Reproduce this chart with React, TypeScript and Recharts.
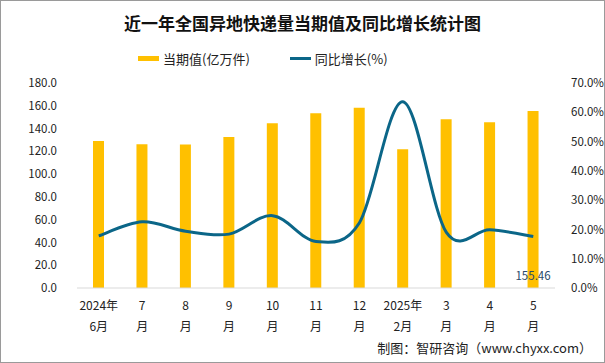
import React from "react";
import {
  Bar,
  ComposedChart,
  LabelList,
  Line,
  XAxis,
  YAxis,
} from "recharts";

/* 近一年全国异地快递量当期值及同比增长 */

const MONTHS = ["2024年|6月", "7|月", "8|月", "9|月", "10|月", "11|月", "12|月", "2025年|2月", "3|月", "4|月", "5|月"];
const VOLUME = [129.1, 126.3, 126.0, 132.5, 144.7, 153.5, 158.2, 121.8, 148.2, 145.6, 155.46];
const YOY = [17.8, 22.6, 19.4, 18.4, 24.7, 15.9, 22.3, 63.6, 19.0, 19.9, 17.6];
const LEFT_TICKS = [0, 20, 40, 60, 80, 100, 120, 140, 160, 180];
const RIGHT_TICKS = [0, 10, 20, 30, 40, 50, 60, 70];

const YELLOW = "#FFC000";
const TEAL = "#0B6688";
const FONT = "'Noto Sans CJK SC', 'Noto Sans', sans-serif";
const TICK = { fill: "#222", fontSize: 11.5, fontFamily: FONT } as const;

const data = MONTHS.map((m, i) => ({ month: m, volume: VOLUME[i], yoy: YOY[i] }));

/* Excel 风格的平滑曲线（Catmull-Rom） */
function smoothCurve(context: any) {
  let pts: [number, number][] = [];
  return {
    areaStart() {},
    areaEnd() {},
    lineStart() {
      pts = [];
    },
    point(x: number, y: number) {
      pts.push([+x, +y]);
    },
    lineEnd() {
      if (!pts.length) return;
      context.moveTo(pts[0][0], pts[0][1]);
      for (let i = 0; i < pts.length - 1; i++) {
        const p0 = pts[Math.max(0, i - 1)];
        const p1 = pts[i];
        const p2 = pts[i + 1];
        const p3 = pts[Math.min(pts.length - 1, i + 2)];
        context.bezierCurveTo(
          p1[0] + (p2[0] - p0[0]) / 6,
          p1[1] + (p2[1] - p0[1]) / 6,
          p2[0] - (p3[0] - p1[0]) / 6,
          p2[1] - (p3[1] - p1[1]) / 6,
          p2[0],
          p2[1]
        );
      }
    },
  };
}

function MonthTick(props: any) {
  const { x, y, payload } = props;
  const [a, b] = String(payload.value).split("|");
  return (
    <g transform={`translate(${x},${y})`}>
      <text textAnchor="middle" fill="#222" fontSize={12} fontFamily={FONT}>
        <tspan x={0} dy={14}>{a}</tspan>
        <tspan x={0} dy={21}>{b}</tspan>
      </text>
    </g>
  );
}

function LastLabel(props: any) {
  const { x, y, width, height, index, value } = props;
  if (index !== VOLUME.length - 1) return null;
  return (
    <text
      x={x + width / 2}
      y={y + height - 8}
      textAnchor="middle"
      fill="#2a4a6a"
      fontSize={11.5}
      fontFamily={FONT}
    >
      {value}
    </text>
  );
}

export default function App() {
  return (
    <div
      style={{
        position: "absolute",
        left: 0,
        top: 0,
        width: 605,
        height: 363,
        boxSizing: "border-box",
        border: "1px solid #9a9a9a",
        background: "#fff",
        fontFamily: FONT,
        overflow: "hidden",
      }}
    >
      <div
        style={{
          position: "absolute",
          top: 9,
          left: 0,
          width: 603,
          textAlign: "center",
          fontSize: 17,
          fontWeight: 700,
          color: "#111",
        }}
      >
        近一年全国异地快递量当期值及同比增长统计图
      </div>
      <div style={{ position: "absolute", top: 48, left: 137, display: "flex", alignItems: "center", fontSize: 13, color: "#222" }}>
        <span style={{ display: "inline-block", width: 21, height: 5, background: YELLOW, marginRight: 4 }} />
        当期值(亿万件)
        <span style={{ display: "inline-block", width: 21, height: 3, background: TEAL, marginLeft: 40, marginRight: 4 }} />
        同比增长(%)
      </div>
      <div style={{ position: "absolute", right: 12, top: 337, fontSize: 13, color: "#222" }}>
        制图：智研咨询（www.chyxx.com）
      </div>
      <ComposedChart
        width={603}
        height={361}
        data={data}
        margin={{ top: 82, right: 0, bottom: 34, left: 0 }}
        barCategoryGap="20%"
      >
        <XAxis
          dataKey="month"
          tick={<MonthTick />}
          tickLine={false}
          axisLine={{ stroke: "#d9d9d9" }}
          interval={0}
          height={40}
        />
        <YAxis
          yAxisId="left"
          domain={[0, 180]}
          ticks={LEFT_TICKS}
          tickFormatter={(v: number) => v.toFixed(1)}
          tick={TICK}
          axisLine={false}
          tickLine={false}
          width={76}
          tickMargin={14}
        />
        <YAxis
          yAxisId="right"
          orientation="right"
          domain={[0, 70]}
          ticks={RIGHT_TICKS}
          tickFormatter={(v: number) => v.toFixed(1) + "%"}
          tick={TICK}
          axisLine={false}
          tickLine={false}
          width={49}
          tickMargin={10}
        />
        <Bar yAxisId="left" dataKey="volume" fill={YELLOW} barSize={11} isAnimationActive={false}>
          <LabelList dataKey="volume" content={<LastLabel />} />
        </Bar>
        <Line
          yAxisId="right"
          dataKey="yoy"
          type={smoothCurve as any}
          stroke={TEAL}
          strokeWidth={3}
          dot={false}
          isAnimationActive={false}
        />
      </ComposedChart>
    </div>
  );
}
